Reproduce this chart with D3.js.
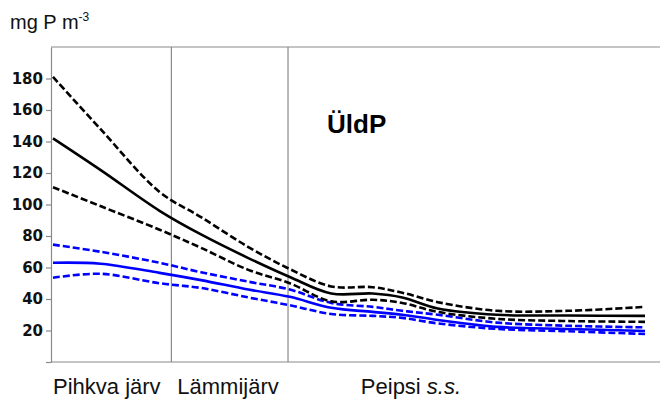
<!DOCTYPE html>
<html>
<head>
<meta charset="utf-8">
<script src="https://cdn.jsdelivr.net/npm/d3@7"></script>
<style>
  body { margin: 0; background: #fff; }
  svg { display: block; }
</style>
</head>
<body>
<div id="chart"></div>
<script>
// distance along the lake (relative units, 0 = Pihkva end)
const stations = [0, 8, 18, 25, 33, 40, 47, 54, 59, 65, 75, 87, 100];

// black: total P, mean with upper / lower bounds
const blackUpper = [181, 148, 108, 92, 73, 59, 48, 47.5, 44, 38, 32.5, 32.5, 35];
const blackMean  = [142, 122, 96, 81, 66, 54, 43.5, 43.5, 41, 34, 30, 29.5, 29.3];
const blackLower = [111, 99, 84, 72.5, 58.5, 50, 38.5, 39.5, 37.5, 31.8, 27.4, 26, 25.5];

// blue series
const blueUpper = [74.5, 70, 63, 57, 51, 46, 37.5, 35, 32.5, 30, 25, 23, 22];
const blueMean  = [63, 62.4, 56.6, 52, 46, 41.4, 34.4, 31.8, 30, 26.7, 22.3, 21, 19.7];
const blueLower = [53.5, 56, 50, 47, 41, 36, 30.5, 29.3, 28, 24.5, 21, 19.5, 17.8];

const yTicks = [0, 20, 40, 60, 80, 100, 120, 140, 160, 180];
const borders = [20, 39.7];
const lakeNames = ["Pihkva järv", "Lämmijärv", "Peipsi"];
const lakeStart = [0, 21, 52];

const width = 660
const height = 400

const svg = d3.select("#chart")
    .append("svg")
    .attr("width", width)
    .attr("height", height)

const x = d3.scaleLinear().domain([0, 100]).range([53, 645])
const y = d3.scaleLinear().domain([0, 200]).range([362, 47])

const grey = "#8a8a8a"

// frame lines (top + bottom) and lake borders
svg.append("line")
    .attr("x1", 51).attr("x2", width)
    .attr("y1", y(200)).attr("y2", y(200))
    .attr("stroke", grey).attr("stroke-width", 1.2)
svg.append("line")
    .attr("x1", 51).attr("x2", width)
    .attr("y1", y(0)).attr("y2", y(0))
    .attr("stroke", grey).attr("stroke-width", 1.2)

svg.selectAll(".border")
    .data(borders)
    .enter()
    .append("line")
    .attr("class", "border")
    .attr("x1", d => x(d)).attr("x2", d => x(d))
    .attr("y1", y(200)).attr("y2", y(0))
    .attr("stroke", grey)
    .attr("stroke-width", 1.2)

// y axis
const yAxis = svg.append("g")
    .attr("transform", "translate(51,0)")
    .call(d3.axisLeft(y)
        .tickValues(yTicks)
        .tickSize(5)
        .tickSizeOuter(0)
        .tickPadding(3)
        .tickFormat(d => d === 0 ? "" : d))
yAxis.select(".domain").attr("stroke", grey).attr("stroke-width", 1.2)
yAxis.selectAll(".tick line").attr("stroke", grey).attr("stroke-width", 1.2)
yAxis.selectAll(".tick text")
    .attr("font-family", "DejaVu Sans")
    .attr("font-weight", "bold")
    .attr("font-size", 15)
    .attr("fill", "#111")

// curves
const series = [
    { values: blueUpper, color: "#0000ff", dash: "7,3" },
    { values: blueLower, color: "#0000ff", dash: "7,3" },
    { values: blueMean, color: "#0000ff", dash: null },
    { values: blackUpper, color: "#000", dash: "7,3" },
    { values: blackLower, color: "#000", dash: "7,3" },
    { values: blackMean, color: "#000", dash: null }
]

const line = d3.line()
    .x((d, i) => x(stations[i]))
    .y(d => y(d))
    .curve(d3.curveCatmullRom.alpha(0.5))

svg.selectAll(".curve")
    .data(series)
    .enter()
    .append("path")
    .attr("class", "curve")
    .attr("d", d => line(d.values))
    .attr("fill", "none")
    .attr("stroke", d => d.color)
    .attr("stroke-width", 2.6)
    .attr("stroke-dasharray", d => d.dash)

// unit label
const unit = svg.append("text")
    .attr("x", 10)
    .attr("y", 29)
    .attr("font-family", "Liberation Sans, Arial")
    .attr("font-size", 20)
    .attr("fill", "#111")
unit.append("tspan").text("mg P m")
unit.append("tspan").attr("dy", -8).attr("font-size", 12).text("-3")

// title
svg.append("text")
    .attr("x", 327)
    .attr("y", 133)
    .attr("font-family", "Liberation Sans, Arial")
    .attr("font-weight", "bold")
    .attr("font-size", 26)
    .attr("fill", "#000")
    .text("ÜldP")

// lake names
const names = svg.selectAll(".lake")
    .data(lakeNames)
    .enter()
    .append("text")
    .attr("class", "lake")
    .attr("x", (d, i) => x(lakeStart[i]))
    .attr("y", 394)
    .attr("font-family", "Liberation Sans, Arial")
    .attr("font-size", 22)
    .attr("fill", "#111")
    .text(d => d)

names.filter((d, i) => i === 2)
    .append("tspan")
    .attr("font-style", "italic")
    .text(" s.s.")
</script>
</body>
</html>
